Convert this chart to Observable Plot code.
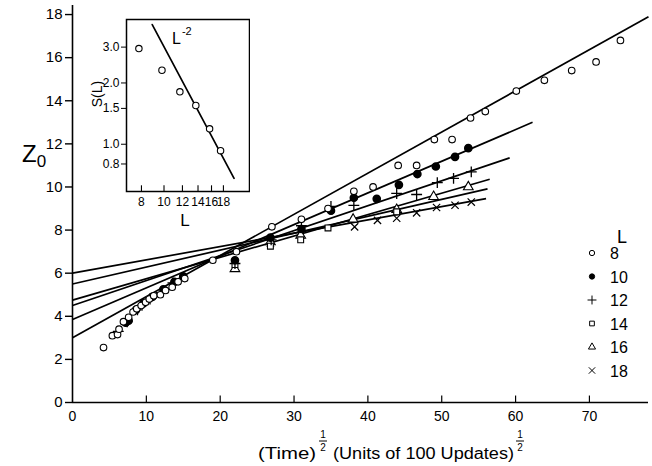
<!DOCTYPE html>
<html><head><meta charset="utf-8">
<script src="https://cdn.jsdelivr.net/npm/d3@7"></script>
<script src="https://cdn.jsdelivr.net/npm/@observablehq/plot@0.6"></script>
<style>
body{margin:0;background:#fff;}
#wrap{position:relative;width:652px;height:466px;overflow:hidden;}
#wrap svg{position:absolute;top:0;}
</style></head><body><div id="wrap"></div>
<script>
// ---------- data ----------
const xTicks = [0,10,20,30,40,50,60,70];
const yTicks = [0,2,4,6,8,10,12,14,16,18];
const seriesL = [8,10,12,14,16,18];

const t8 = [4.2,5.4,6.1,6.3,6.9,7.6,8.2,8.7,9.3,9.9,10.4,11.0,11.9,12.6,13.5,14.3,15.2,19.0,22.2,27.0,31.0,34.6,38.1,40.7,44.1,46.6,49.0,51.4,53.9,55.9,60.1,63.9,67.6,70.9,74.2];
const z8 = [2.55,3.1,3.15,3.4,3.75,3.95,4.2,4.35,4.5,4.65,4.8,4.95,5.0,5.2,5.35,5.6,5.75,6.6,7.0,8.15,8.5,9.0,9.8,10.0,11.0,11.0,12.2,12.2,13.2,13.5,14.45,14.95,15.4,15.8,16.8];
const t10 = [7.2,7.6,8.6,9.6,10.8,12.3,13.8,15.0,22.0,26.8,31.0,35.0,38.1,41.2,44.2,46.7,49.2,51.8,53.6];
const z10 = [3.7,3.8,4.3,4.6,4.9,5.25,5.6,5.85,6.6,7.65,8.05,8.9,9.5,9.45,10.1,10.6,10.95,11.4,11.8];
const t12 = [6.2,7.4,8.8,10.5,12.0,13.6,22.0,26.9,31.0,35.0,38.1,43.9,46.6,49.4,51.6,54.0];
const z12 = [3.3,3.75,4.3,4.8,5.1,5.55,6.45,7.55,8.2,9.1,9.15,9.7,9.65,10.2,10.4,10.7];
const t14 = [22.0,26.8,30.9,34.6,43.9];
const z14 = [6.4,7.25,7.55,8.1,8.85];
const t16 = [22.0,26.8,30.9,38.0,43.9,48.9,53.6];
const z16 = [6.2,7.45,7.75,8.5,8.95,9.55,10.0];
const t18 = [26.8,31.0,38.2,41.3,43.9,46.6,49.3,51.8,54.0];
const z18 = [7.4,7.8,8.15,8.45,8.55,8.8,9.05,9.15,9.3];

// fitted straight lines, one per L
const fitT0 = [0,0,0,0,0,0];
const fitZ0 = [3.0,3.85,4.5,4.75,5.5,6.0];
const fitT1 = [78,62.3,59.2,56.5,56.2,56.0];
const fitZ1 = [17.9,13.0,11.35,10.36,9.91,9.46];

// inset: S(L) vs L, log-log
const insetL = [7.8,9.8,11.7,13.7,15.7,17.5];
const insetS = [2.95,2.31,1.81,1.55,1.19,0.93];
const insetXTicks = [8,10,12,14,16,18];
const insetYTicks = [0.8,1.0,1.5,2.0,3.0];
const powerL = [8.9,20];
const powerS = [3.87,0.68];

// ---------- build ----------
const FONT = "Liberation Sans, Arial, sans-serif";
const pts = (t,z) => t.map((v,i)=>({t:v,z:z[i]}));
const fits = seriesL.map((L,i)=>({L, x1:fitT0[i], y1:fitZ0[i], x2:fitT1[i], y2:fitZ1[i]}));

const main = Plot.plot({
  width: 652, height: 466,
  marginLeft: 72, marginRight: 4, marginTop: 5, marginBottom: 64,
  style: {fontFamily: FONT, background: "white", color: "black"},
  x: {domain: [0,78]},
  y: {domain: [0,18.42]},
  marks: [
    Plot.ruleY([0], {strokeWidth: 1.6}),
    Plot.ruleX([0], {strokeWidth: 1.6}),
    Plot.axisY({ticks: yTicks, tickSize: 7, tickPadding: 3, fontSize: 15, label: null, strokeWidth: 1.4}),
    Plot.axisX({ticks: xTicks, tickSize: 0, tickPadding: 9, fontSize: 14, label: null}),
    Plot.ruleX(xTicks.filter(d=>d>0), {x: d=>d, y1: 0, y2: 0.3, strokeWidth: 1.2}),
    Plot.link(fits, {x1:"x1", y1:"y1", x2:"x2", y2:"y2", stroke: "black", strokeWidth: 1.7}),
    Plot.dot(pts(t18,z18), {x:"t", y:"z", symbol:"times", r: 3.4, stroke:"black", strokeWidth: 1.2}),
    Plot.dot(pts(t16,z16), {x:"t", y:"z", symbol:"triangle", r: 3.6, fill:"white", stroke:"black", strokeWidth: 1.1}),
    Plot.dot(pts(t14,z14), {x:"t", y:"z", symbol:"square", r: 3.3, fill:"white", stroke:"black", strokeWidth: 1.1}),
    Plot.dot(pts(t12,z12), {x:"t", y:"z", symbol:"plus", r: 3.6, stroke:"black", strokeWidth: 1.3}),
    Plot.dot(pts(t10,z10), {x:"t", y:"z", r: 3.6, fill:"black", stroke:"black"}),
    Plot.dot(pts(t8,z8), {x:"t", y:"z", r: 3.3, fill:"white", stroke:"black", strokeWidth: 1.1})
  ]
});
main.style.left = "0px";
document.getElementById("wrap").appendChild(main);

const inset = Plot.plot({
  width: 162, height: 235,
  marginLeft: 38, marginRight: 1, marginTop: 19, marginBottom: 44,
  style: {fontFamily: FONT, background: "transparent", color: "black"},
  x: {type: "log", domain: [6.9, 23.3]},
  y: {type: "log", domain: [0.586, 4.1]},
  marks: [
    Plot.frame({strokeWidth: 1.5}),
    Plot.axisY({ticks: insetYTicks, tickFormat: d3.format(".1f"), tickSize: 5, tickPadding: 2, fontSize: 12, label: null}),
    Plot.axisX({ticks: insetXTicks, tickFormat: d=>String(d), tickSize: 0, tickPadding: 6, fontSize: 12, label: null}),
    Plot.ruleX(insetXTicks, {x: d=>d, y1: 0.586, y2: 0.625, strokeWidth: 1.1}),
    Plot.line(powerL.map((v,i)=>({L:v, S:powerS[i]})), {x:"L", y:"S", stroke:"black", strokeWidth: 1.7}),
    Plot.dot(insetL.map((v,i)=>({L:v, S:insetS[i]})), {x:"L", y:"S", r: 3.2, fill:"white", stroke:"black", strokeWidth: 1.1})
  ]
});
inset.style.left = "88px";
document.getElementById("wrap").appendChild(inset);

// ---------- text annotations ----------
const ms = d3.select(main);
const g = ms.append("g").attr("font-family", FONT).attr("fill", "black").attr("text-anchor", "start");

// y-axis title Z0
const zt = g.append("text").attr("x", 22).attr("y", 162).attr("font-size", 24);
zt.append("tspan").text("Z");
zt.append("tspan").attr("font-size", 17).attr("dy", 5).text("0");

// x-axis title with stacked 1/2 superscripts
function frac(x, base) {
  g.append("text").attr("x", x).attr("y", base - 21).attr("font-size", 10).attr("text-anchor", "middle").text("1");
  g.append("line").attr("x1", x - 4).attr("x2", x + 4).attr("y1", base - 18).attr("y2", base - 18).attr("stroke", "black").attr("stroke-width", 1);
  g.append("text").attr("x", x).attr("y", base - 8).attr("font-size", 10).attr("text-anchor", "middle").text("2");
}
const base = 459;
g.append("text").attr("x", 258).attr("y", base).attr("font-size", 16)
  .attr("textLength", 58).attr("lengthAdjust", "spacingAndGlyphs").text("(Time)");
frac(323, base);
g.append("text").attr("x", 333).attr("y", base).attr("font-size", 16)
  .attr("textLength", 181).attr("lengthAdjust", "spacingAndGlyphs").text("(Units of 100 Updates)");
frac(520, base);

// legend
const lg = g.append("g");
lg.append("text").attr("x", 617).attr("y", 243).attr("font-size", 18).text("L");
const legSym = [["circle",false],["circle",true],["plus",false],["square",false],["triangle",false],["times",false]];
const symMap = {circle: d3.symbolCircle, plus: d3.symbolPlus, square: d3.symbolSquare, triangle: d3.symbolTriangle, times: d3.symbolTimes};
seriesL.forEach((L, i) => {
  const y = 253 + i * 23.5;
  const [s, filled] = legSym[i];
  const line = s === "plus" || s === "times";
  lg.append("path").attr("transform", `translate(592,${y})`)
    .attr("d", d3.symbol(symMap[s], line ? 28 : 22)())
    .attr("fill", line ? "none" : (filled ? "black" : "white"))
    .attr("stroke", "black").attr("stroke-width", 1);
  lg.append("text").attr("x", 610).attr("y", y + 6).attr("font-size", 16).text(String(L));
});

// inset labels
const is = d3.select(inset).append("g").attr("font-family", FONT).attr("fill", "black").attr("text-anchor", "start");
is.append("text").attr("transform", "translate(14,94) rotate(-90)").attr("text-anchor", "middle").attr("font-size", 14).text("S(L)");
is.append("text").attr("x", 97).attr("y", 226).attr("text-anchor", "middle").attr("font-size", 17).text("L");
const lt = is.append("text").attr("x", 84).attr("y", 44).attr("font-size", 16);
lt.append("tspan").text("L");
lt.append("tspan").attr("font-size", 11).attr("dy", -9).attr("dx", 1).text("-2");
</script></body></html>
